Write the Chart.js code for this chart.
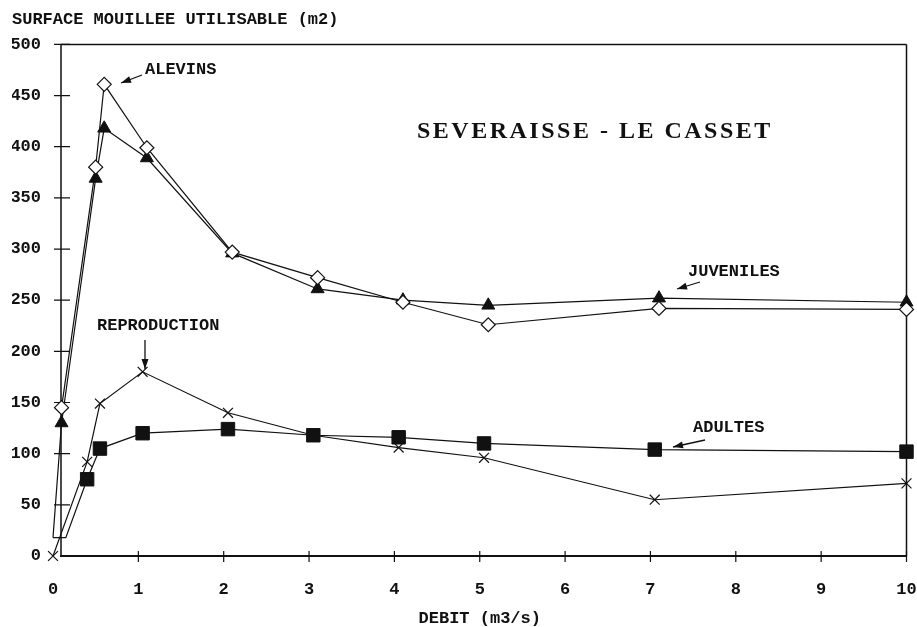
<!DOCTYPE html>
<html><head><meta charset="utf-8">
<script src="https://cdn.jsdelivr.net/npm/chart.js@4"></script>
<style>html,body{margin:0;padding:0;background:#fff}</style>
</head><body>
<canvas id="c" width="917" height="627"></canvas>
<script>
// ---- text ----
const yTitle = "SURFACE MOUILLEE UTILISABLE (m2)";
const xTitle = "DEBIT (m3/s)";
const chartTitle = "SEVERAISSE - LE CASSET";
const seriesNames = ["ALEVINS", "JUVENILES", "REPRODUCTION", "ADULTES"];

// ---- ticks ----
const xTicks = [0, 1, 2, 3, 4, 5, 6, 7, 8, 9, 10];
const yTicks = [0, 50, 100, 150, 200, 250, 300, 350, 400, 450, 500];

// ---- data (debit m3/s, surface m2) ----
const alevinsX = [0.1, 0.5, 0.6, 1.1, 2.1, 3.1, 4.1, 5.1, 7.1, 10];
const alevinsY = [145, 380, 461, 399, 297, 272, 248, 226, 242, 241];

const juvenilesX = [0, 0.1, 0.5, 0.6, 1.1, 2.1, 3.1, 4.1, 5.1, 7.1, 10];
const juvenilesY = [18, 130, 369, 418, 389, 296, 261, 250, 245, 252, 248];

const reproX = [0, 0.4, 0.55, 1.05, 2.05, 3.05, 4.05, 5.05, 7.05, 10];
const reproY = [0, 92, 149, 180, 140, 118, 106, 96, 55, 71];

const adultesX = [0, 0.15, 0.4, 0.55, 1.05, 2.05, 3.05, 4.05, 5.05, 7.05, 10];
const adultesY = [18, 18, 75, 105, 120, 124, 118, 116, 110, 104, 102];

// ---- styling ----
const INK = '#111';
const MONO = "'Liberation Mono', 'Courier New', monospace";
const SERIF = "'Liberation Serif', 'Times New Roman', serif";

function pts(xs, ys) { return xs.map((x, i) => ({ x: x, y: ys[i] })); }
function radii(xs, r, hidden) { return xs.map((_, i) => i < hidden ? 0 : r); }

const datasets = [
  { label: seriesNames[0], data: pts(alevinsX, alevinsY), pointStyle: 'rectRot',
    pointRadius: 7, pointBackgroundColor: '#fff', pointBorderColor: INK, pointBorderWidth: 1.2 },
  { label: seriesNames[1], data: pts(juvenilesX, juvenilesY), pointStyle: 'triangle',
    pointRadius: radii(juvenilesX, 7.5, 1), pointBackgroundColor: INK, pointBorderColor: INK, pointBorderWidth: 1 },
  { label: seriesNames[3], data: pts(adultesX, adultesY), pointStyle: 'rect',
    pointRadius: radii(adultesX, 9.5, 2), pointBackgroundColor: INK, pointBorderColor: INK, pointBorderWidth: 1 },
  { label: seriesNames[2], data: pts(reproX, reproY), pointStyle: 'crossRot',
    pointRadius: 7, pointBackgroundColor: INK, pointBorderColor: INK, pointBorderWidth: 1.2 }
].map(d => Object.assign({ borderColor: INK, borderWidth: 1.2, showLine: true, fill: false, tension: 0, clip: false }, d));

// annotation layout (pixels)
const notes = [
  { text: seriesNames[0], x: 145, y: 70, arrow: [142, 75, 121, 83] },
  { text: seriesNames[2], x: 97, y: 326, arrow: [145, 340, 145, 369] },
  { text: seriesNames[1], x: 688, y: 272, arrow: [700, 282, 677, 289] },
  { text: seriesNames[3], x: 693, y: 428, arrow: [705, 440, 673, 447] }
];

const framePlugin = {
  id: 'frame',
  beforeDatasetsDraw(chart) {
    const { ctx, chartArea: a, scales: { x, y } } = chart;
    const ax = a.left + 8;
    ctx.save();
    ctx.strokeStyle = INK;
    ctx.lineWidth = 1.5;
    ctx.beginPath();
    ctx.moveTo(ax, a.top); ctx.lineTo(a.right, a.top);
    ctx.moveTo(a.right, a.top); ctx.lineTo(a.right, a.bottom);
    ctx.moveTo(ax, a.top); ctx.lineTo(ax, a.bottom);
    ctx.stroke();
    ctx.lineWidth = 2;
    ctx.beginPath();
    ctx.moveTo(ax - 1, a.bottom); ctx.lineTo(a.right, a.bottom);
    ctx.stroke();
    ctx.lineWidth = 1.2;
    ctx.beginPath();
    yTicks.forEach(v => { const py = y.getPixelForValue(v); if (v > 0) { ctx.moveTo(ax - 7, py); ctx.lineTo(ax + 9, py); } });
    xTicks.forEach(v => { if (v > 0) { const px = x.getPixelForValue(v); ctx.moveTo(px, a.bottom - 5); ctx.lineTo(px, a.bottom + 6); } });
    ctx.stroke();
    ctx.restore();
  },
  afterDraw(chart) {
    const ctx = chart.ctx;
    ctx.save();
    ctx.fillStyle = INK; ctx.strokeStyle = INK;
    // main title
    ctx.font = "bold 24px " + SERIF;
    if ('letterSpacing' in ctx) ctx.letterSpacing = '2.5px';
    ctx.textBaseline = 'alphabetic'; ctx.textAlign = 'left';
    ctx.fillText(chartTitle, 417, 138);
    if ('letterSpacing' in ctx) ctx.letterSpacing = '0px';
    // series annotations
    ctx.font = "bold 17px " + MONO;
    ctx.textBaseline = 'middle';
    notes.forEach(n => {
      ctx.fillText(n.text, n.x, n.y);
      const [x1, y1, x2, y2] = n.arrow;
      ctx.lineWidth = 1.3;
      ctx.beginPath(); ctx.moveTo(x1, y1); ctx.lineTo(x2, y2); ctx.stroke();
      const ang = Math.atan2(y2 - y1, x2 - x1), L = 10, W = 3.5;
      ctx.beginPath();
      ctx.moveTo(x2, y2);
      ctx.lineTo(x2 - L * Math.cos(ang) + W * Math.sin(ang), y2 - L * Math.sin(ang) - W * Math.cos(ang));
      ctx.lineTo(x2 - L * Math.cos(ang) - W * Math.sin(ang), y2 - L * Math.sin(ang) + W * Math.cos(ang));
      ctx.closePath(); ctx.fill();
    });
    ctx.restore();
  }
};

const tickFont = { family: MONO, size: 17, weight: 'bold', lineHeight: 1 };

new Chart(document.getElementById('c'), {
  type: 'scatter',
  data: { datasets: datasets },
  plugins: [framePlugin],
  options: {
    responsive: false,
    animation: false,
    events: [],
    layout: { padding: { left: 12, right: 0, top: 0, bottom: 0 } },
    plugins: {
      legend: { display: false },
      tooltip: { enabled: false },
      title: { display: true, text: yTitle, align: 'start', color: INK,
        font: { family: MONO, size: 17, weight: 'bold', lineHeight: 1.2 },
        padding: { top: 10, bottom: 14 } }
    },
    scales: {
      x: {
        type: 'linear', min: 0, max: 10,
        afterBuildTicks: s => { s.ticks = xTicks.map(v => ({ value: v })); },
        afterFit: s => { s.height = 71; s.paddingRight = 10; },
        grid: { display: false, drawTicks: false },
        border: { display: false },
        ticks: { padding: 25, color: INK, font: tickFont, maxRotation: 0, autoSkip: false },
        title: { display: true, text: xTitle, color: INK, font: tickFont, padding: { top: 12, bottom: 0 } }
      },
      y: {
        type: 'linear', min: 0, max: 500,
        afterBuildTicks: s => { s.ticks = yTicks.map(v => ({ value: v })); },
        afterFit: s => { s.width = 41; },
        grid: { display: false, drawTicks: false },
        border: { display: false },
        ticks: { padding: 12, color: INK, font: tickFont }
      }
    }
  }
});
</script>
</body></html>
